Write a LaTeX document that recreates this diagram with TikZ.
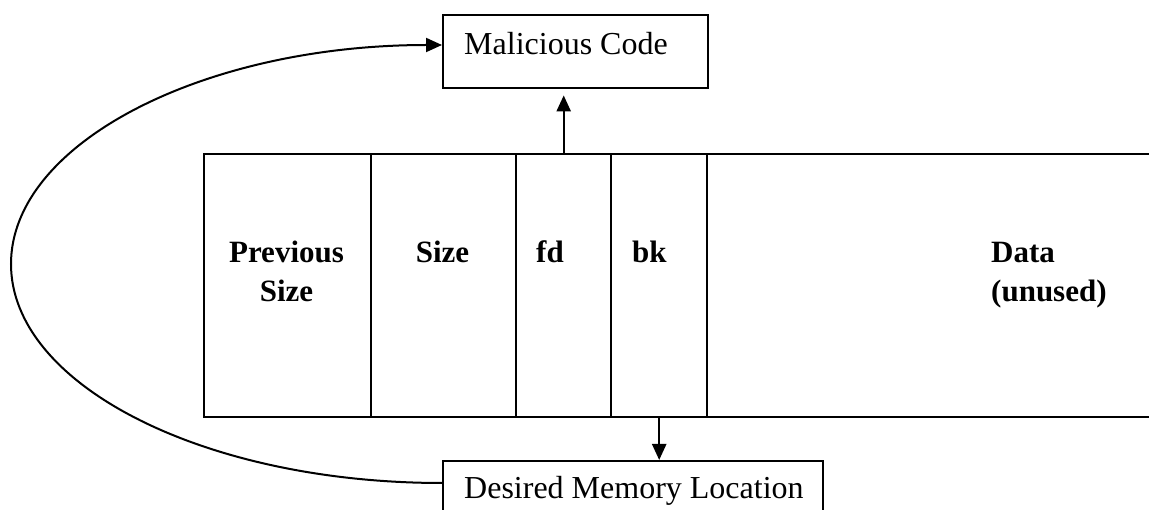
\documentclass[tikz,border=0pt]{standalone}
\usepackage{fontspec}
\setmainfont{Liberation Serif}
\usetikzlibrary{arrows.meta}
\begin{document}
\begin{tikzpicture}[x=1pt,y=1pt,line width=2.4pt,
  box/.style={draw, rectangle, inner sep=0pt, anchor=north west},
  lbl/.style={font=\fontsize{32}{38}\selectfont, anchor=base west, inner sep=0pt},
  blbl/.style={font=\fontsize{31}{39}\selectfont\bfseries, inner sep=0pt},
  arr/.style={-{Triangle[length=16pt,width=14pt]}}]
\useasboundingbox (0,0) rectangle (1149,-510);
\clip (0,0) rectangle (1149,-510);
% chunk cells
\node[box, minimum width=167pt, minimum height=263pt] (prev) at (203,-153) {};
\node[box, minimum width=145pt, minimum height=263pt] (size) at (370,-153) {};
\node[box, minimum width=95pt, minimum height=263pt] (fd) at (515,-153) {};
\node[box, minimum width=96pt, minimum height=263pt] (bk) at (610,-153) {};
\node[box, minimum width=470pt, minimum height=263pt] (data) at (706,-153) {};
% labels
\node[blbl, anchor=base] (prevtxt) at (286.5,-263) {\begin{tabular}[t]{@{}c@{}}Previous\\Size\end{tabular}};
\node[blbl, anchor=base] (sizetxt) at (442.5,-263) {Size};
\node[blbl, anchor=base west] (fdtxt) at (535,-263) {fd};
\node[blbl, anchor=base west] (bktxt) at (631,-263) {bk};
\node[blbl, anchor=base west] (datatxt) at (990,-263) {\begin{tabular}[t]{@{}l@{}}Data\\(unused)\end{tabular}};
% boxes
\node[box, minimum width=265pt, minimum height=73pt] (mal) at (442,-14) {};
\node[lbl] (maltxt) at (463,-55) {Malicious Code};
\node[box, minimum width=380pt, minimum height=80pt] (des) at (442,-460) {};
\node[lbl] (destxt) at (463,-498) {Desired Memory Location};
% arrows
\draw[arr] (fd.north) -- ([yshift=-6pt]mal.south -| fd.north);
\draw[arr] (bk.south) -- (des.north -| bk.south);
\coordinate (cs) at ([yshift=-23pt]des.north west);
\draw[arr, line width=2pt] (cs) arc[start angle=-90, end angle=-270, x radius=431pt, y radius=219pt];
\end{tikzpicture}
\end{document}
